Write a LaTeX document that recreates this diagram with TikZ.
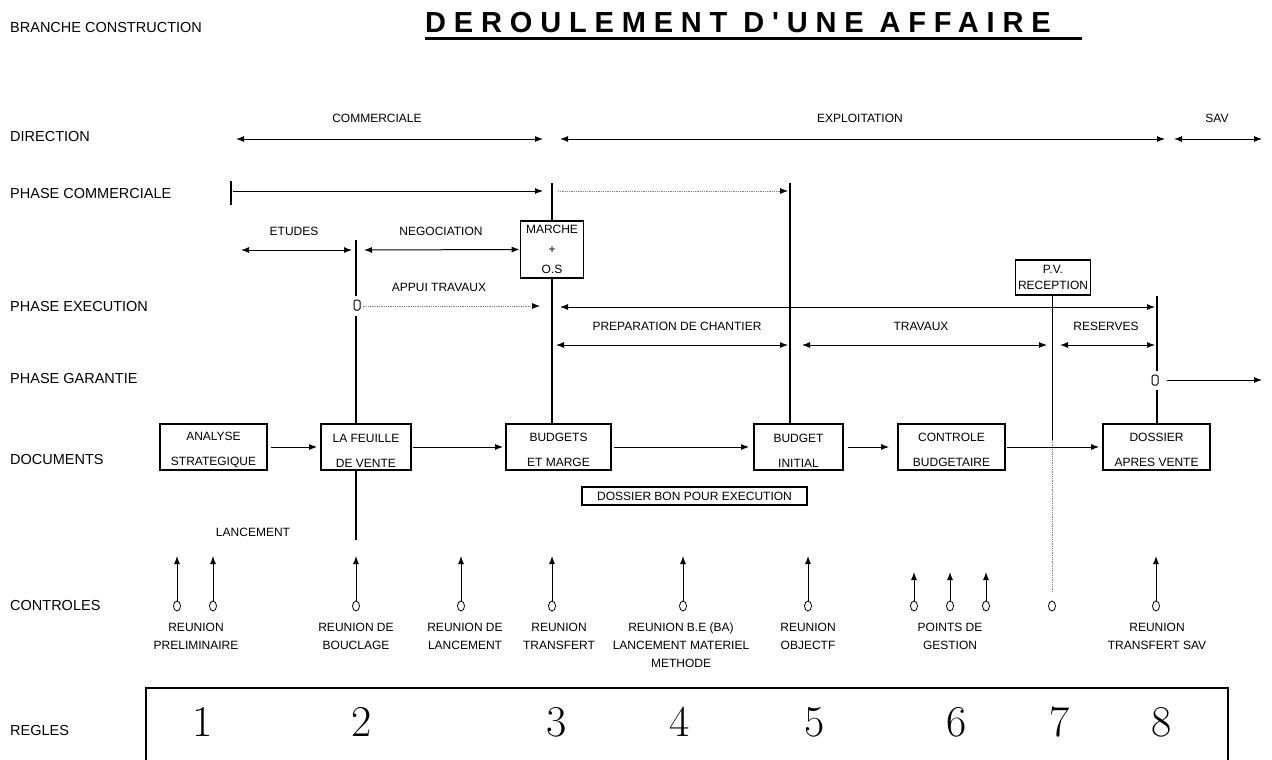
\documentclass[tikz,border=0pt]{standalone}
\usepackage{fontspec}
\setsansfont{Liberation Sans}
\newfontfamily\titlefont[LetterSpace=27]{Liberation Sans}
\renewcommand{\familydefault}{\sfdefault}
\newcommand{\docstrut}{\rule{0pt}{15pt}}
\usetikzlibrary{arrows.meta, shapes.geometric}

\tikzset{
  rowlbl/.style={anchor=west, inner sep=0pt, font=\fontsize{14.5}{17}\selectfont},
  lbl/.style={inner sep=0pt, font=\fontsize{12}{14}\selectfont},
  docbox/.style={draw, line width=1.8pt, minimum height=46pt, inner sep=0pt, align=center, font=\fontsize{12}{25}\selectfont},
  ctlbl/.style={anchor=north, inner sep=0pt, align=center, font=\fontsize{12}{18}\selectfont},
  ctl/.style={draw, ellipse, line width=0.8pt, minimum width=7pt, minimum height=10pt, inner sep=0pt},
  gapbox/.style={draw, rounded corners=1.5pt, line width=1pt, minimum width=6pt, minimum height=10pt, inner sep=0pt},
  tip/.style={line width=1pt, -{Latex[length=8pt,width=6pt]}},
  dtip/.style={line width=1pt, {Latex[length=8pt,width=6pt]}-{Latex[length=8pt,width=6pt]}},
  dots/.style={gray, densely dotted, line width=0.8pt, -{Latex[length=8pt,width=6pt,black]}},
  bar/.style={line width=2.4pt},
}

\begin{document}
\begin{tikzpicture}[x=1pt,y=-1pt]
  \useasboundingbox (0,0) rectangle (1272,760);

  % titre
  \node[rowlbl] (branche) at (10,28) {BRANCHE CONSTRUCTION};
  \node[anchor=base west, inner sep=0pt, font=\titlefont\bfseries\fontsize{29}{32}\selectfont] (title) at (425,33) {DEROULEMENT D'UNE AFFAIRE};
  \draw[line width=3pt] (425,38.5) -- (1082,38.5);

  % lignes
  \node[rowlbl] (direction) at (10,137) {DIRECTION};
  \node[rowlbl] (phcom) at (10,194) {PHASE COMMERCIALE};
  \node[rowlbl] (phexe) at (10,307) {PHASE EXECUTION};
  \node[rowlbl] (phgar) at (10,379) {PHASE GARANTIE};
  \node[rowlbl] (docs) at (10,460) {DOCUMENTS};
  \node[rowlbl] (ctrls) at (10,606) {CONTROLES};
  \node[rowlbl] (regles) at (10,731) {REGLES};

  % direction
  \coordinate (dc1) at (236,139); \coordinate (dc2) at (543,139);
  \coordinate (de1) at (560,139); \coordinate (de2) at (1165,139);
  \coordinate (ds1) at (1174,139); \coordinate (ds2) at (1262,139);
  \draw[dtip] (dc1) -- (dc2);
  \draw[dtip] (de1) -- (de2);
  \draw[dtip] (ds1) -- (ds2);
  \node[lbl] (lcom) at (377,118) {COMMERCIALE};
  \node[lbl] (lexp) at (860,118) {EXPLOITATION};
  \node[lbl] (lsav) at (1217,118) {SAV};

  % boites
  \node[draw, line width=1.8pt, minimum width=63pt, minimum height=57pt, inner sep=0pt, align=center, font=\fontsize{12}{20}\selectfont] (marche) at (552,249.5) {MARCHE\\+\\O.S};
  \node[draw, line width=1.8pt, minimum width=75pt, minimum height=35pt, inner sep=0pt, align=center, font=\fontsize{12}{16}\selectfont] (pv) at (1053,277.5) {P.V.\\RECEPTION};
  \node[docbox, minimum width=107pt] (ana) at (213.5,447) {\docstrut ANALYSE\\STRATEGIQUE};
  \node[docbox, minimum width=90pt] (feu) at (366,447) {\docstrut LA FEUILLE\\DE VENTE};
  \node[docbox, minimum width=105pt] (bud) at (558.5,447) {\docstrut BUDGETS\\ET MARGE};
  \node[docbox, minimum width=89pt] (bin) at (798.5,447) {\docstrut BUDGET\\INITIAL};
  \node[docbox, minimum width=107pt] (ctr) at (951.5,447) {\docstrut CONTROLE\\BUDGETAIRE};
  \node[docbox, minimum width=107pt] (dos) at (1156.5,447) {\docstrut DOSSIER\\APRES VENTE};
  \node[draw, line width=1.5pt, minimum width=225pt, minimum height=18pt, inner sep=0pt, font=\fontsize{12}{14}\selectfont] (bpe) at (694.5,496) {DOSSIER BON POUR EXECUTION};

  % phase commerciale
  \coordinate (pt1) at (231,181); \coordinate (pt2) at (231,205);
  \draw[line width=2pt] (pt1) -- (pt2);
  \coordinate (pcs) at (233,191); \coordinate (pce) at (543,191);
  \draw[tip] (pcs) -- (pce);
  \coordinate (pds) at (558,191); \coordinate (pde) at (788,191);
  \draw[dots] (pds) -- (pde);
  \coordinate (p3) at (552,183);
  \draw[bar] (p3) -- (marche.north);
  \draw[bar] (marche.south) -- (marche.south |- bud.north);
  \coordinate (p5) at (790,183);
  \draw[bar] (p5) -- (p5 |- bin.north);

  % etudes / negociation
  \node[lbl] (letu) at (294,231) {ETUDES};
  \node[lbl] (lneg) at (441,231) {NEGOCIATION};
  \coordinate (et1) at (241,250); \coordinate (et2) at (352,250);
  \coordinate (ng1) at (364,250);
  \draw[dtip] (et1) -- (et2);
  \draw[dtip] (ng1) -- (marche.west);
  \coordinate (p2) at (356,240);
  \node[gapbox] (m1) at (357,305) {};
  \draw[bar, shorten >=4pt] (p2) -- (p2 |- m1.north);
  \draw[bar, shorten <=5pt] (p2 |- m1.south) -- (p2 |- feu.north);
  \coordinate (q2) at (356,540);
  \draw[bar] (q2 |- feu.south) -- (q2);

  % phase execution
  \node[lbl] (lapp) at (439,287) {APPUI TRAVAUX};
  \coordinate (ap2) at (540,306);
  \draw[dots, shorten <=2pt] (m1.east |- ap2) -- (ap2);
  \coordinate (ex1) at (560,307); \coordinate (ex2) at (1155,307);
  \draw[dtip] (ex1) -- (ex2);
  \coordinate (pv1) at (1052,440); \coordinate (pv2) at (1052,592);
  \draw[line width=0.8pt] (pv.south -| pv1) -- (pv1);
  \draw[gray, densely dotted, line width=0.8pt] (pv1) -- (pv2);
  \coordinate (p8) at (1157,296);
  \node[gapbox] (m2) at (1155,380) {};
  \draw[bar, shorten >=4pt] (p8) -- (p8 |- m2.north);
  \draw[bar, shorten <=4pt] (p8 |- m2.south) -- (p8 |- dos.north);

  % chantier
  \node[lbl] (lpre) at (677,326) {PREPARATION DE CHANTIER};
  \node[lbl] (ltra) at (921,326) {TRAVAUX};
  \node[lbl] (lres) at (1106,326) {RESERVES};
  \coordinate (ch1) at (556,345); \coordinate (ch2) at (788,345);
  \coordinate (tr1) at (802,345); \coordinate (tr2) at (1047,345);
  \coordinate (rs1) at (1060,345); \coordinate (rs2) at (1155,345);
  \draw[dtip] (ch1) -- (ch2);
  \draw[dtip] (tr1) -- (tr2);
  \draw[dtip] (rs1) -- (rs2);

  % phase garantie
  \coordinate (ga2) at (1262,380);
  \draw[tip, shorten <=8pt] (m2.east) -- (ga2);

  % documents
  \draw[tip, shorten <=3pt, shorten >=3pt] (ana) -- (feu);
  \draw[tip, shorten <=1pt, shorten >=2pt] (feu) -- (bud);
  \draw[tip, shorten <=2pt, shorten >=4pt] (bud) -- (bin);
  \draw[tip, shorten <=4pt, shorten >=8pt] (bin) -- (ctr);
  \draw[tip, shorten <=1pt, shorten >=3pt] (ctr) -- (dos);
  \node[lbl] (llan) at (253,532) {LANCEMENT};

  % controles
  \foreach \n/\x/\t in {1/177/556, 2/213/556, 3/356/556, 4/461/556, 5/552/556, 6/683/556, 7/808/556, 8/914/572, 9/950/572, 10/986/572, 12/1156/556}
  {
    \node[ctl] (c\n) at (\x,606) {};
    \coordinate (t\n) at (\x,\t);
    \draw[tip] (c\n) -- (t\n);
  }
  \node[ctl] (c11) at (1052,606) {};

  \node[ctlbl] (r1) at (196,623) {REUNION\\PRELIMINAIRE};
  \node[ctlbl] (r2) at (356,623) {REUNION DE\\BOUCLAGE};
  \node[ctlbl] (r3) at (465,623) {REUNION DE\\LANCEMENT};
  \node[ctlbl] (r4) at (559,623) {REUNION\\TRANSFERT};
  \node[ctlbl] (r5) at (681,623) {REUNION B.E (BA)\\LANCEMENT MATERIEL\\METHODE};
  \node[ctlbl] (r6) at (808,623) {REUNION\\OBJECTF};
  \node[ctlbl] (r7) at (950,623) {POINTS DE\\GESTION};
  \node[ctlbl] (r8) at (1157,623) {REUNION\\TRANSFERT SAV};

  % regles
  \draw[line width=1.8pt] (146,765) -- (146,688) -- (1228,688) -- (1228,765);
  \foreach \k/\x in {1/203, 2/362, 3/557, 4/680, 5/815, 6/957, 7/1060, 8/1162}
    \node[inner sep=0pt, font=\rmfamily\fontsize{44}{50}\selectfont] (n\k) at (\x,722) {\k};
\end{tikzpicture}
\end{document}
